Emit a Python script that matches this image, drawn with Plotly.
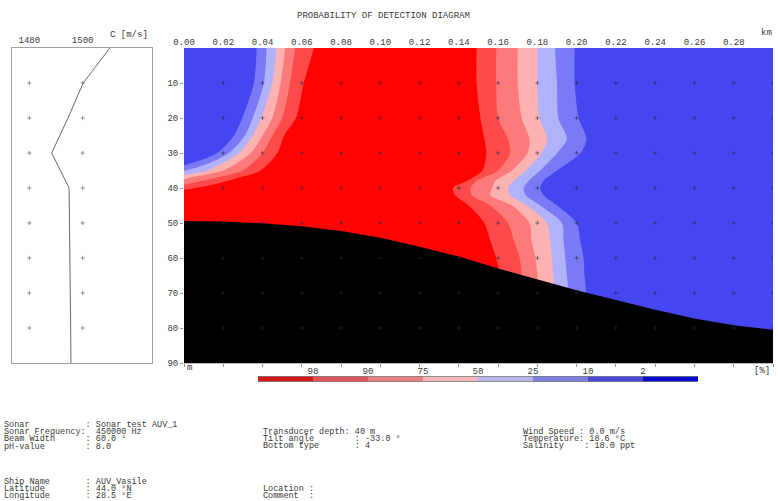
import plotly.graph_objects as go

W, H = 778, 501
FONT = "Liberation Mono"
TXT = "#3a3a3a"

TITLE = "PROBABILITY OF DETECTION DIAGRAM"
RANGE_KM = [0.0, 0.30]
RANGE_DEPTH = [90, 0]
X_TICKS = [0.00, 0.02, 0.04, 0.06, 0.08, 0.10, 0.12, 0.14, 0.16, 0.18, 0.20, 0.22, 0.24, 0.26, 0.28, 0.30]
X_TICKTEXT = ["0.00", "0.02", "0.04", "0.06", "0.08", "0.10", "0.12", "0.14", "0.16", "0.18", "0.20",
              "0.22", "0.24", "0.26", "0.28", "0.30"]
DEPTH_TICKS = [10, 20, 30, 40, 50, 60, 70, 80, 90]
GRID_KM = [0.02, 0.04, 0.06, 0.08, 0.10, 0.12, 0.14, 0.16, 0.18, 0.20, 0.22, 0.24, 0.26, 0.28, 0.30]
GRID_DEPTH = [10, 20, 30, 40, 50, 60, 70, 80]

# sound speed profile
SSP_DEPTH = [0, 10, 20, 30, 40, 50, 60, 70, 80, 90]
SSP_SPEED = [1510.2, 1500.2, 1494.5, 1488.4, 1494.9, 1495.1, 1495.2, 1495.3, 1495.5, 1495.6]
SSP_RANGE = [1473.5, 1526.0]
SSP_TICKS = [1480, 1500]

# seafloor
SEAFLOOR_KM = [0.00, 0.02, 0.04, 0.06, 0.08, 0.10, 0.12, 0.14, 0.16, 0.18, 0.20, 0.22, 0.24, 0.26, 0.28, 0.30]
SEAFLOOR_DEPTH = [49.4, 49.6, 50.1, 50.9, 52.3, 54.2, 56.8, 59.6, 63.0, 66.2, 69.2, 72.0, 74.8, 77.3, 79.2, 80.5]

# probability levels (region colours, from high to low probability)
LEVELS = ["98", "90", "75", "50", "25", "10", "2"]
REGION_COLORS = ["#ff0303", "#fd4b4b", "#fc7a7a", "#fdb2b2", "#b2b2fb", "#7a7af6", "#4646f0"]
BAR_COLORS = ["#d41818", "#e05656", "#e88282", "#f2b6b6", "#b6b6ec", "#7e7ee2", "#4848d6", "#0a0ac8"]

# right-hand contour boundaries (km at each depth)
R_DEPTH = [0, 10, 20, 26, 30, 35, 38, 40, 42, 45, 50, 55, 60, 65, 70, 75, 84]
R_B98 = [0.149, 0.149, 0.151, 0.153, 0.154, 0.152, 0.144, 0.137, 0.138, 0.145, 0.153, 0.156, 0.159, 0.161, 0.162, 0.163, 0.163]
R_B90 = [0.159, 0.159, 0.160, 0.165, 0.166, 0.160, 0.149, 0.146, 0.1466, 0.156, 0.165, 0.168, 0.171, 0.172, 0.173, 0.173, 0.173]
R_B75 = [0.170, 0.170, 0.172, 0.176, 0.175, 0.167, 0.1585, 0.157, 0.156, 0.167, 0.176, 0.177, 0.179, 0.180, 0.180, 0.181, 0.181]
R_B50 = [0.180, 0.180, 0.181, 0.185, 0.182, 0.174, 0.168, 0.165, 0.166, 0.1746, 0.1848, 0.1865, 0.1874, 0.188, 0.189, 0.190, 0.190]
R_B25 = [0.189, 0.190, 0.1907, 0.195, 0.190, 0.1814, 0.1755, 0.173, 0.174, 0.1814, 0.1925, 0.1933, 0.1942, 0.195, 0.196, 0.197, 0.197]
R_B10 = [0.199, 0.199, 0.201, 0.205, 0.202, 0.190, 0.183, 0.1814, 0.183, 0.190, 0.200, 0.2018, 0.2035, 0.204, 0.205, 0.206, 0.206]

# left (near-field) contour boundaries
L_B98_X = [0.066, 0.061, 0.057, 0.051, 0.0475, 0.039, 0.028, 0.015, 0.0]
L_B98_D = [0, 10, 20, 25, 30, 35, 37, 39, 40.5]
L_B90_X = [0.0565, 0.054, 0.050, 0.045, 0.040, 0.030, 0.0166, 0.005, 0.0]
L_B90_D = [0, 10, 20, 25, 30, 35, 37, 38.5, 39]
L_B75_X = [0.0515, 0.0492, 0.045, 0.040, 0.034, 0.020, 0.003, 0.0]
L_B75_D = [0, 10, 20, 25, 30, 35, 37, 37.5]
L_B50_X = [0.047, 0.045, 0.0393, 0.035, 0.028, 0.012, 0.0]
L_B50_D = [0, 10, 20, 25, 30, 35, 36.2]
L_B25_X = [0.042, 0.0407, 0.035, 0.031, 0.0229, 0.010, 0.0]
L_B25_D = [0, 10, 20, 25, 30, 33.5, 35]
L_B10_X = [0.037, 0.0356, 0.0297, 0.0255, 0.017, 0.006, 0.0]
L_B10_D = [0, 10, 20, 25, 30, 32.5, 33.5]

INFO_A = ["Sonar           : Sonar test AUV_1",
          "Sonar Frequency:  450000 Hz",
          "Beam Width      : 60.0 °",
          "pH-value        : 8.0"]
INFO_A2 = ["Ship Name       : AUV_Vasile",
           "Latitude        : 44.0 °N",
           "Longitude       : 28.5 °E"]
INFO_B = ["Transducer depth: 40 m",
          "Tilt angle        : -33.0 °",
          "Bottom type       : 4"]
INFO_B2 = ["Location :", "Comment  :"]
INFO_C = ["Wind Speed : 0.0 m/s",
          "Temperature: 18.6 °C",
          "Salinity    : 18.0 ppt"]


def px(x):
    return x / W


def py(y):
    return 1 - y / H


fig = go.Figure()

# right-hand contour regions
right_bounds = [R_B98, R_B90, R_B75, R_B50, R_B25, R_B10]
for b, col in zip(right_bounds, REGION_COLORS[1:]):
    xs = [b[0]] + list(b) + [RANGE_KM[1] * 1.05, RANGE_KM[1] * 1.05]
    ys = [R_DEPTH[0] - 2] + list(R_DEPTH) + [R_DEPTH[-1], R_DEPTH[0] - 2]
    fig.add_trace(go.Scatter(x=xs, y=ys, mode="lines", fill="toself", fillcolor=col,
                             line=dict(width=0, shape="spline", smoothing=0.8),
                             hoverinfo="skip", showlegend=False))

# left near-field regions
left_bounds = [(L_B98_X, L_B98_D), (L_B90_X, L_B90_D), (L_B75_X, L_B75_D),
               (L_B50_X, L_B50_D), (L_B25_X, L_B25_D), (L_B10_X, L_B10_D)]
for (bx, bd), col in zip(left_bounds, REGION_COLORS[1:]):
    xs = [bx[0]] + list(bx) + [-0.005, -0.005]
    ys = [-2] + list(bd) + [bd[-1], -2]
    fig.add_trace(go.Scatter(x=xs, y=ys, mode="lines", fill="toself", fillcolor=col,
                             line=dict(width=0, shape="spline", smoothing=0.8),
                             hoverinfo="skip", showlegend=False))

# seafloor (polygon padded past the axis edges so no background shows through)
fig.add_trace(go.Scatter(x=[RANGE_KM[0] - 0.005] + SEAFLOOR_KM + [RANGE_KM[1] + 0.005, RANGE_KM[1] + 0.005, RANGE_KM[0] - 0.005],
                         y=[SEAFLOOR_DEPTH[0]] + SEAFLOOR_DEPTH + [SEAFLOOR_DEPTH[-1], RANGE_DEPTH[0] + 3, RANGE_DEPTH[0] + 3],
                         mode="lines", fill="toself", fillcolor="#000000",
                         line=dict(width=0, color="#000000"),
                         hoverinfo="skip", showlegend=False))

# grid crosses
gx, gy = [], []
for d in GRID_DEPTH:
    for k in GRID_KM:
        gx.append(k)
        gy.append(d)
fig.add_trace(go.Scatter(x=gx, y=gy, mode="markers",
                         marker=dict(symbol="cross-thin", size=3,
                                     line=dict(width=1, color="rgba(40,40,70,0.55)")),
                         hoverinfo="skip", showlegend=False))

# bottom ticks helper trace
fig.add_trace(go.Scatter(x=[RANGE_KM[0]], y=[RANGE_DEPTH[0]], xaxis="x4", yaxis="y",
                         mode="markers", marker=dict(opacity=0), hoverinfo="skip", showlegend=False))

# sound speed panel
fig.add_trace(go.Scatter(x=SSP_SPEED, y=SSP_DEPTH, xaxis="x2", yaxis="y2", mode="lines",
                         line=dict(color="#6a6a6a", width=1), hoverinfo="skip", showlegend=False))
sx, sy = [], []
for d in GRID_DEPTH:
    for s in SSP_TICKS:
        sx.append(s)
        sy.append(d)
fig.add_trace(go.Scatter(x=sx, y=sy, xaxis="x2", yaxis="y2", mode="markers",
                         marker=dict(symbol="cross-thin", size=3,
                                     line=dict(width=1, color="rgba(90,90,90,0.6)")),
                         hoverinfo="skip", showlegend=False))

# colour bar
n = len(BAR_COLORS)
fig.add_trace(go.Heatmap(z=[list(range(n))], x=[i + 0.5 for i in range(n)], y=[0],
                         colorscale=[[i / (n - 1), c] for i, c in enumerate(BAR_COLORS)],
                         zmin=0, zmax=n - 1, showscale=False, xaxis="x3", yaxis="y3",
                         hoverinfo="skip"))

main_y = [py(363), py(48)]
tickfont = dict(family=FONT, size=9, color=TXT)

fig.update_layout(
    width=W, height=H, autosize=False,
    margin=dict(l=0, r=0, t=0, b=0, pad=0, autoexpand=False),
    paper_bgcolor="white", plot_bgcolor="black",
    showlegend=False,
    xaxis=dict(domain=[px(184), px(773)], range=RANGE_KM, side="top", anchor="y",
               tickvals=X_TICKS, ticktext=X_TICKTEXT, ticks="", showgrid=False, zeroline=False,
               tickfont=tickfont, showline=False, automargin=False),
    xaxis4=dict(domain=[px(184), px(773)], range=RANGE_KM, side="bottom", anchor="y",
                overlaying="x", tickvals=X_TICKS, ticks="outside", ticklen=3, tickcolor="#999",
                showticklabels=False, showgrid=False, zeroline=False, showline=True,
                linecolor="#bbbbbb", linewidth=1, automargin=False),
    yaxis=dict(domain=main_y, range=RANGE_DEPTH, anchor="x", tickvals=DEPTH_TICKS,
               ticks="outside", ticklen=3, tickcolor="#999", showgrid=False, zeroline=False,
               tickfont=tickfont, automargin=False),
    xaxis2=dict(domain=[px(12), px(152)], range=SSP_RANGE, side="top", anchor="y2",
                tickvals=SSP_TICKS, ticks="", showgrid=False, zeroline=False,
                showline=True, mirror=True, linecolor="#a0a0a0", linewidth=1, tickfont=tickfont,
                automargin=False),
    yaxis2=dict(domain=main_y, range=RANGE_DEPTH, anchor="x2", showticklabels=False, ticks="",
                showgrid=False, zeroline=False, showline=True, mirror=True,
                linecolor="#a0a0a0", linewidth=1, automargin=False),
    xaxis3=dict(domain=[px(258), px(698)], range=[0, n], side="top", anchor="y3",
                tickvals=list(range(1, n)), ticktext=LEVELS, ticks="", showgrid=False,
                zeroline=False, showline=False, tickfont=tickfont, automargin=False),
    yaxis3=dict(domain=[py(381.5), py(376.5)], range=[-0.5, 0.5], anchor="x3", visible=False,
                automargin=False),
    shapes=[
        # white background for the sound-speed panel
        dict(type="rect", xref="x2 domain", yref="y2 domain", x0=0, x1=1, y0=0, y1=1,
             fillcolor="white", line=dict(width=0), layer="below"),
        # high-probability (red) water column, down to just below the deepest seafloor point
        dict(type="rect", xref="x domain", yref="y", x0=0, x1=1,
             y0=RANGE_DEPTH[1], y1=max(SEAFLOOR_DEPTH) + 1,
             fillcolor=REGION_COLORS[0], line=dict(width=0), layer="below"),
    ],
)

anns = []


def note(text, x, y, xanchor="left", size=9):
    anns.append(dict(text=text.replace(" ", "\u00a0"), x=px(x), y=py(y), xref="paper", yref="paper",
                     xanchor=xanchor, yanchor="middle", align=xanchor if xanchor != "center" else "center",
                     showarrow=False, borderpad=0,
                     font=dict(family=FONT, size=size, color=TXT)))


note(TITLE, 383.5, 16, "center")
note("C [m/s]", 129, 35, "center")
note("km", 766, 33, "center")
note("m", 186, 368, "left")
note("[%]", 762, 371, "center")

LS = 7.2
for i, t in enumerate(INFO_A):
    note(t, 3, 425 + LS * i, size=8.5)
for i, t in enumerate(INFO_A2):
    note(t, 3, 482 + LS * i, size=8.5)
for i, t in enumerate(INFO_B):
    note(t, 262, 432 + LS * i, size=8.5)
for i, t in enumerate(INFO_B2):
    note(t, 262, 489 + LS * i, size=8.5)
for i, t in enumerate(INFO_C):
    note(t, 522, 432 + LS * i, size=8.5)

fig.update_layout(annotations=anns)
fig.write_html("out.html")
